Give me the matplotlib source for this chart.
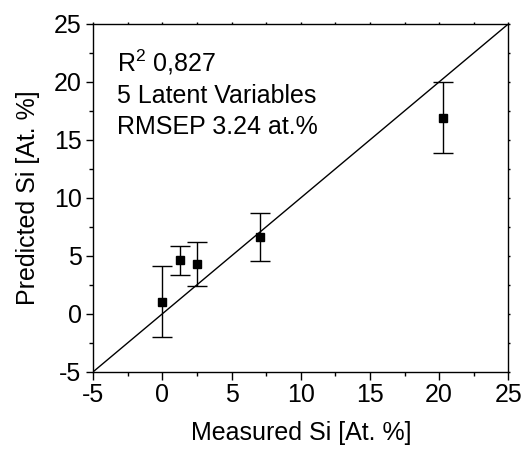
import matplotlib

matplotlib.use("Agg")
import matplotlib.pyplot as plt
from matplotlib.ticker import MultipleLocator

plt.rcParams["font.family"] = ["Liberation Sans", "DejaVu Sans"]
plt.rcParams["mathtext.default"] = "regular"
plt.rcParams["axes.unicode_minus"] = False

# measured vs predicted Si, at.%
measured = [0.0, 1.25, 2.5, 7.05, 20.26]
predicted = [1.02, 4.61, 4.32, 6.62, 16.92]
pred_err = [3.06, 1.25, 1.89, 2.03, 3.08]

diag = [-5, 25]
info_lines = [r"R$^{2}$ 0,827", "5 Latent Variables", "RMSEP 3.24 at.%"]

FS = 18

fig = plt.figure(figsize=(5.21, 4.5), dpi=100, facecolor="white")
ax = fig.add_axes([0.179, 0.174, 0.7966, 0.7727])

ax.plot(diag, diag, color="black", linewidth=1.0, zorder=2)
ax.errorbar(
    measured,
    predicted,
    yerr=pred_err,
    fmt="s",
    color="black",
    markersize=5.5,
    ecolor="black",
    elinewidth=1.0,
    capsize=7.5,
    capthick=1.0,
    zorder=3,
)

ax.set_xlim(-5, 25)
ax.set_ylim(-5, 25)
ax.xaxis.set_major_locator(MultipleLocator(5))
ax.yaxis.set_major_locator(MultipleLocator(5))
ax.xaxis.set_minor_locator(MultipleLocator(2.5))
ax.yaxis.set_minor_locator(MultipleLocator(2.5))

for side in ax.spines.values():
    side.set_linewidth(1.0)

ax.tick_params(which="major", direction="out", length=5.4, width=1.0,
               labelsize=FS, pad=3)
ax.tick_params(which="minor", direction="out", length=2.8, width=1.0)
ax.tick_params(which="both", top=True, right=True)
for t in ax.xaxis.get_major_ticks() + ax.xaxis.get_minor_ticks():
    t.tick2line.set_markersize(1.5)
for t in ax.yaxis.get_major_ticks() + ax.yaxis.get_minor_ticks():
    t.tick2line.set_markersize(1.5)

ax.set_xlabel("Measured Si [At. %]", fontsize=FS, labelpad=10)
ax.set_ylabel("Predicted Si [At. %]", fontsize=FS, labelpad=10)

for text, y in zip(info_lines, [0.863, 0.772, 0.683]):
    ax.text(0.057, y, text, transform=ax.transAxes, fontsize=FS,
            ha="left", va="baseline")

fig.savefig("out.png", dpi=100, facecolor=fig.get_facecolor())
plt.close(fig)
